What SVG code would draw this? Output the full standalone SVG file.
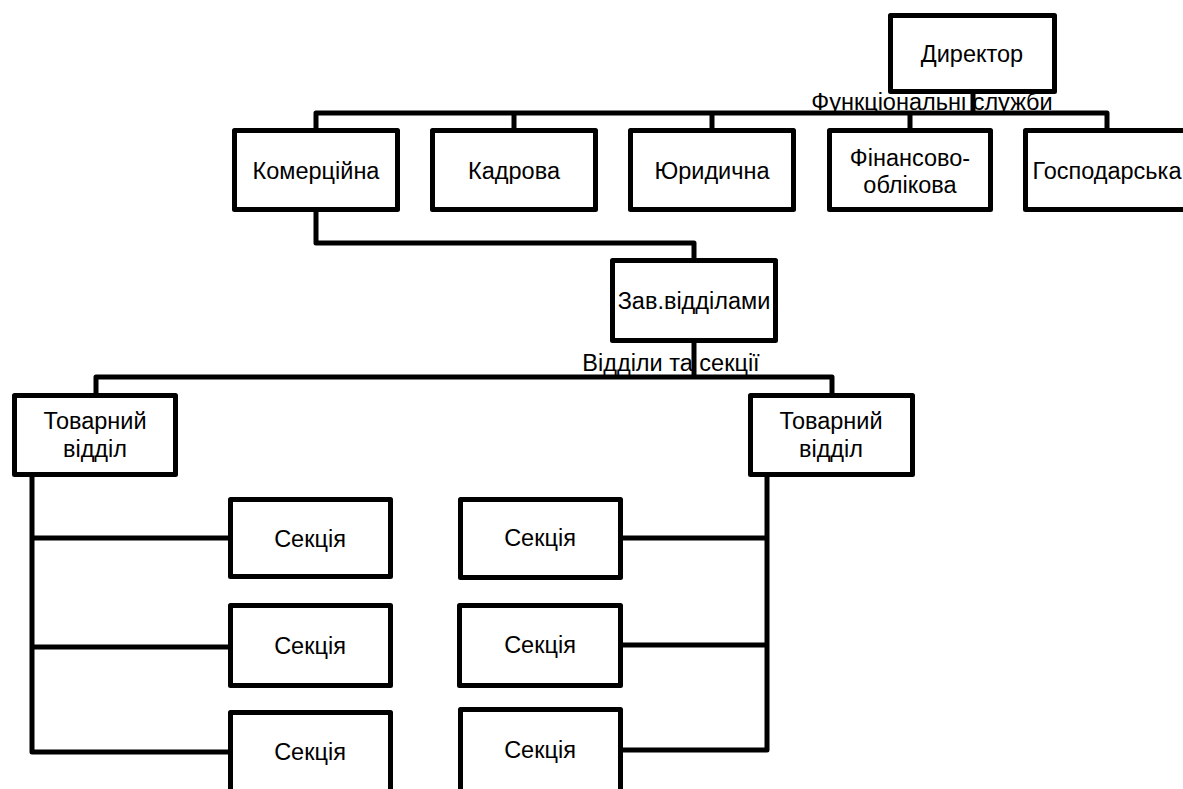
<svg xmlns="http://www.w3.org/2000/svg" width="1183" height="789" viewBox="0 0 1183 789">
<style>
.box{fill:#fff;stroke:#000;stroke-width:5;stroke-linejoin:round}
.ln{fill:none;stroke:#000;stroke-width:5;stroke-linejoin:round}
text{font-family:"Liberation Sans","Open Sans",sans-serif;font-size:23.5px;fill:#000;text-anchor:middle;dominant-baseline:central}
</style>
<rect width="1183" height="789" fill="#fff"/>
<g id="labels">
<text x="932" y="102">Функціональні служби</text>
<text x="671" y="363">Відділи та секції</text>
</g>
<g id="connectors">
<path class="ln" d="M973 94V113M316 128V113H1107V128M514 113V128M712 113V128M910 113V128"/>
<path class="ln" d="M316 212V243H694V258"/>
<path class="ln" d="M694 343V377M96 393V377H832V393"/>
<path class="ln" d="M32 477V752H228M32 538H228M32 647H228"/>
<path class="ln" d="M767 477V750H623M767 538H623M767 645H623"/>
</g>
<g id="director"><rect class="box" x="890.5" y="15.5" width="164" height="76"/><text x="972" y="54">Директор</text></g>
<g id="komerc"><rect class="box" x="234.5" y="130.5" width="163" height="79"/><text x="316" y="171">Комерційна</text></g>
<g id="kadrova"><rect class="box" x="432.5" y="130.5" width="163" height="79"/><text x="514" y="171">Кадрова</text></g>
<g id="yuryd"><rect class="box" x="630.5" y="130.5" width="163" height="79"/><text x="712" y="171">Юридична</text></g>
<g id="finans"><rect class="box" x="829.5" y="130.5" width="161" height="79"/><text x="910" y="158">Фінансово-</text><text x="910" y="185">облікова</text></g>
<g id="gospod"><rect class="box" x="1025.5" y="130.5" width="163" height="79"/><text x="1107" y="171">Господарська</text></g>
<g id="zav"><rect class="box" x="612.5" y="260.5" width="163" height="80"/><text x="694" y="301">Зав.відділами</text></g>
<g id="tov-left"><rect class="box" x="14.5" y="395.5" width="161" height="79"/><text x="95" y="421">Товарний</text><text x="95" y="449">відділ</text></g>
<g id="tov-right"><rect class="box" x="750.5" y="395.5" width="162" height="79"/><text x="831" y="421">Товарний</text><text x="831" y="449">відділ</text></g>
<g id="sec-l1"><rect class="box" x="230.5" y="499.5" width="160" height="77"/><text x="310" y="539">Секція</text></g>
<g id="sec-l2"><rect class="box" x="230.5" y="605.5" width="160" height="80"/><text x="310" y="646">Секція</text></g>
<g id="sec-l3"><rect class="box" x="230.5" y="712.5" width="160" height="90"/><text x="310" y="752">Секція</text></g>
<g id="sec-r1"><rect class="box" x="460.5" y="499.5" width="160" height="78"/><text x="540" y="538">Секція</text></g>
<g id="sec-r2"><rect class="box" x="459.5" y="605.5" width="161" height="80"/><text x="540" y="645">Секція</text></g>
<g id="sec-r3"><rect class="box" x="460.5" y="709.5" width="160" height="90"/><text x="540" y="750">Секція</text></g>
</svg>
